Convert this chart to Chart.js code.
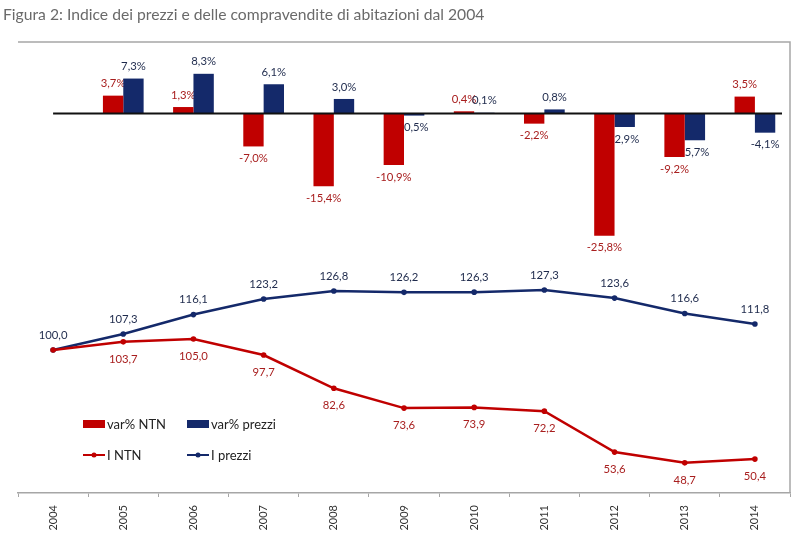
<!DOCTYPE html>
<html>
<head>
<meta charset="utf-8">
<script src="https://cdn.jsdelivr.net/npm/chart.js@4.4.1/dist/chart.umd.min.js"></script>
<style>
  html, body { margin: 0; padding: 0; background: #ffffff; }
  #wrap { width: 800px; height: 540px; position: relative; }
</style>
</head>
<body>
<div id="wrap"><canvas id="c" width="800" height="540"></canvas></div>
<script>
const TITLE = "Figura 2: Indice dei prezzi e delle compravendite di abitazioni dal 2004";
const years = ["2004","2005","2006","2007","2008","2009","2010","2011","2012","2013","2014"];
const varNTN    = [null, 3.7, 1.3, -7.0, -15.4, -10.9, 0.4, -2.2, -25.8, -9.2, 3.5];
const varPrezzi = [null, 7.3, 8.3, 6.1, 3.0, -0.5, 0.1, 0.8, -2.9, -5.7, -4.1];
const indexNTN    = [100.0, 103.7, 105.0, 97.7, 82.6, 73.6, 73.9, 72.2, 53.6, 48.7, 50.4];
const indexPrezzi = [100.0, 107.3, 116.1, 123.2, 126.8, 126.2, 126.3, 127.3, 123.6, 116.6, 111.8];
const seriesNames = ["var% NTN", "var% prezzi", "I NTN", "I prezzi"];

const RED = "#C00000", BLUE = "#14296A";
const RED_TXT = "#A81E1E", BLUE_TXT = "#1E2A4C";
const FONT = "Lato, 'Open Sans', sans-serif";

function fmt(v, pct) {
  return v.toFixed(1).replace(".", ",") + (pct ? "%" : "");
}

const deco = {
  id: "deco",
  beforeDatasetsDraw(chart) {
    const ctx = chart.ctx;
    ctx.save();
    ctx.font = "11.3px " + FONT;
    ctx.textAlign = "center";
    ctx.textBaseline = "middle";
    [0, 1].forEach(di => {
      const meta = chart.getDatasetMeta(di);
      const data = chart.data.datasets[di].data;
      ctx.fillStyle = di === 0 ? RED_TXT : BLUE_TXT;
      meta.data.forEach((el, i) => {
        const v = data[i];
        if (v === null || v === undefined) return;
        const y = v >= 0 ? el.y - 12 : el.y + 12;
        ctx.fillText(fmt(v, true), el.x, y);
      });
    });
    ctx.restore();
  },
  afterDatasetsDraw(chart) {
    const ctx = chart.ctx;
    const xs = chart.scales.x, ys = chart.scales.y;
    const ca = chart.chartArea;
    ctx.save();
    const y0 = Math.round(ys.getPixelForValue(0)) + 0.5;
    ctx.strokeStyle = "#111";
    ctx.lineWidth = 2;
    ctx.beginPath();
    ctx.moveTo(xs.getPixelForValue(0), y0);
    ctx.lineTo(ca.right - 8, y0);
    ctx.stroke();
    ctx.font = "11.3px " + FONT;
    ctx.textAlign = "center";
    ctx.textBaseline = "middle";
    const mN = chart.getDatasetMeta(2), mP = chart.getDatasetMeta(3);
    ctx.fillStyle = RED_TXT;
    mN.data.forEach((el, i) => {
      if (i === 0) return;
      ctx.fillText(fmt(chart.data.datasets[2].data[i], false), el.x, el.y + 17);
    });
    ctx.fillStyle = BLUE_TXT;
    mP.data.forEach((el, i) => {
      ctx.fillText(fmt(chart.data.datasets[3].data[i], false), el.x, el.y - 15);
    });
    ctx.restore();
  },
  afterDraw(chart) {
    const ctx = chart.ctx;
    const ca = chart.chartArea;
    ctx.save();
    ctx.font = "15.7px " + FONT;
    ctx.fillStyle = "#6a6a6a";
    ctx.textAlign = "left";
    ctx.textBaseline = "middle";
    ctx.fillText(TITLE, 3, 15);
    ctx.strokeStyle = "#a6a6a6";
    ctx.lineWidth = 1.5;
    ctx.beginPath();
    ctx.moveTo(ca.left, ca.top);
    ctx.lineTo(ca.right, ca.top);
    ctx.lineTo(ca.right, ca.bottom);
    ctx.stroke();
    ctx.font = "13px " + FONT;
    ctx.textBaseline = "middle";
    const ds = chart.data.datasets;
    const items = [
      {x: 83, y: 424, kind: "bar", ds: ds[0]},
      {x: 187, y: 424, kind: "bar", ds: ds[1]},
      {x: 83, y: 455, kind: "line", ds: ds[2]},
      {x: 187, y: 455, kind: "line", ds: ds[3]}
    ];
    items.forEach(it => {
      if (it.kind === "bar") {
        ctx.fillStyle = it.ds.backgroundColor;
        ctx.fillRect(it.x, it.y - 4, 22, 8);
      } else {
        ctx.strokeStyle = it.ds.borderColor;
        ctx.lineWidth = 2;
        ctx.beginPath();
        ctx.moveTo(it.x, it.y);
        ctx.lineTo(it.x + 22, it.y);
        ctx.stroke();
        ctx.fillStyle = it.ds.borderColor;
        ctx.beginPath();
        ctx.arc(it.x + 11, it.y, 2.5, 0, Math.PI * 2);
        ctx.fill();
      }
      ctx.fillStyle = "#222";
      ctx.fillText(it.ds.label, it.x + 24, it.y + 0.5);
    });
    ctx.restore();
  }
};

new Chart(document.getElementById("c"), {
  data: {
    labels: years,
    datasets: [
      { type: "bar", label: seriesNames[0], data: varNTN, backgroundColor: RED, yAxisID: "y",
        categoryPercentage: 0.58, barPercentage: 1.0, order: 2 },
      { type: "bar", label: seriesNames[1], data: varPrezzi, backgroundColor: BLUE, yAxisID: "y",
        categoryPercentage: 0.58, barPercentage: 1.0, order: 2 },
      { type: "line", label: seriesNames[2], data: indexNTN, borderColor: RED, backgroundColor: RED,
        borderWidth: 2.5, pointRadius: 2.8, pointBackgroundColor: RED, pointBorderWidth: 0,
        tension: 0, yAxisID: "y2", order: 1 },
      { type: "line", label: seriesNames[3], data: indexPrezzi, borderColor: BLUE, backgroundColor: BLUE,
        borderWidth: 2.5, pointRadius: 2.8, pointBackgroundColor: BLUE, pointBorderWidth: 0,
        tension: 0, yAxisID: "y2", order: 1 }
    ]
  },
  options: {
    responsive: false,
    animation: false,
    layout: { padding: { top: 42, left: 18, right: 10, bottom: 0 } },
    plugins: {
      legend: { display: false },
      title: { display: false },
      tooltip: { enabled: false }
    },
    scales: {
      x: {
        type: "category",
        offset: true,
        grid: { display: true, offset: true, drawOnChartArea: false, color: "#a6a6a6", tickLength: 4 },
        border: { display: true, color: "#a6a6a6", width: 1.5 },
        ticks: { color: "#333", font: { family: FONT, size: 11 }, minRotation: 90, maxRotation: 90, padding: 8, autoSkip: false },
        afterFit(scale) { scale.height = 47; }
      },
      y: { display: false, min: -80, max: 15 },
      y2: { display: false, min: 35, max: 240 }
    }
  },
  plugins: [deco]
});
</script>
</body>
</html>
